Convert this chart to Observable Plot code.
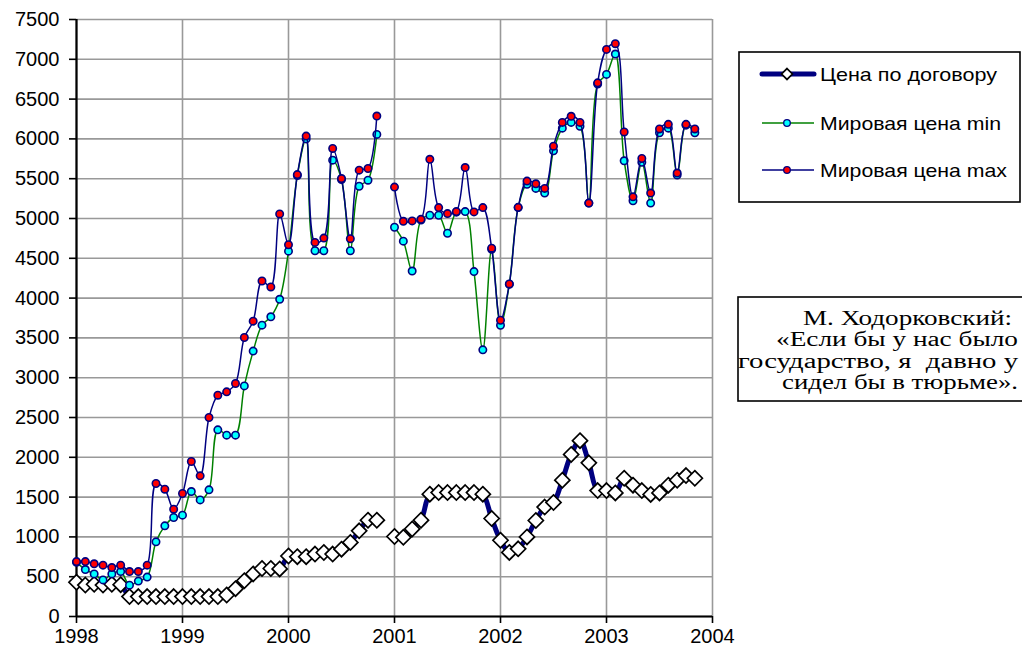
<!DOCTYPE html>
<html>
<head>
<meta charset="utf-8">
<script src="https://cdn.jsdelivr.net/npm/d3@7"></script>
<script src="https://cdn.jsdelivr.net/npm/@observablehq/plot@0.6"></script>
<style>
  html, body { margin: 0; padding: 0; background: #fff; overflow: hidden; }
  #wrap { position: relative; width: 1022px; height: 653px; overflow: hidden; }
  #overlay { position: absolute; left: 0; top: 0; pointer-events: none; }
</style>
</head>
<body>
<div id="wrap"><div id="chart"></div><svg id="overlay" width="1022" height="653"></svg></div>
<script>
// Monthly values, Jan 1998 .. Nov 2003 (Dec 2000 missing)
const contractPrice = [
  430, 395, 405, 395, 405, 400, 250, 250, 250, 250, 250, 250,
  250, 250, 250, 250, 250, 270, 350, 450, 535, 603, 603, 598,
  760, 752, 752, 784, 804, 784, 846, 930, 1076, 1210, 1210, null,
  1005, 995, 1100, 1210, 1537, 1557, 1557, 1557, 1557, 1557, 1537, 1231,
  958, 805, 850, 1000, 1206, 1375, 1433, 1712, 2036, 2209, 1930, 1582,
  1582, 1553, 1737, 1650, 1582, 1534, 1553, 1650, 1712, 1770, 1737
];
const worldMin = [
  680, 590, 535, 460, 535, 565, 394, 445, 495, 938, 1139, 1244,
  1273, 1570, 1465, 1591, 2345, 2278, 2278, 2897, 3334, 3660, 3765, 3985,
  4590, 5540, 6000, 4595, 4595, 5733, 5490, 4595, 5405, 5481, 6056, null,
  4890, 4715, 4340, 4980, 5041, 5041, 4815, 5080, 5087, 4333, 3350, 4614,
  3659, 4174, 5137, 5430, 5378, 5320, 5850, 6135, 6207, 6159, 5194, 6690,
  6810, 7066, 5725, 5223, 5706, 5194, 6077, 6135, 5546, 6173, 6077
];
const worldMax = [
  690, 690, 662, 645, 615, 645, 565, 565, 645, 1671, 1599, 1348,
  1545, 1947, 1767, 2500, 2780, 2822, 2927, 3505, 3710, 4215, 4140, 5057,
  4670, 5552, 6035, 4700, 4754, 5880, 5502, 4746, 5607, 5628, 6287, null,
  5395, 4965, 4970, 4990, 5744, 5137, 5062, 5087, 5640, 5083, 5137, 4627,
  3722, 4178, 5140, 5470, 5436, 5378, 5908, 6207, 6284, 6207, 5194, 6704,
  7124, 7196, 6087, 5272, 5754, 5320, 6125, 6183, 5571, 6183, 6125
];
const seriesNames = ["Цена по договору", "Мировая цена min", "Мировая цена max"];
const yTicks = [0, 500, 1000, 1500, 2000, 2500, 3000, 3500, 4000, 4500, 5000, 5500, 6000, 6500, 7000, 7500];
const xTicks = [1998, 1999, 2000, 2001, 2002, 2003, 2004];
const quoteLines = ["М. Ходорковский:", "«Если бы у нас было", "государство, я  давно у", "сидел бы в тюрьме»."];

const data = contractPrice.map((v, i) => ({
  t: 1998 + i / 12, dog: v, min: worldMin[i], max: worldMax[i]
}));

const navy = "#000080", green = "#008000", grid = "#999999";

const chart = Plot.plot({
  width: 1022, height: 653,
  marginLeft: 76, marginRight: 310, marginTop: 19, marginBottom: 37,
  style: { fontFamily: "'Liberation Sans', Arial, sans-serif", fontSize: "16px", background: "#fff", color: "#000" },
  x: { domain: [1998, 2004] },
  y: { domain: [0, 7500] },
  marks: [
    Plot.gridY(yTicks, { stroke: grid, strokeOpacity: 1, strokeWidth: 1.6 }),
    Plot.gridX(xTicks, { stroke: grid, strokeOpacity: 1, strokeWidth: 1.6 }),
    Plot.axisY(yTicks, { tickSize: 7, tickPadding: 10, tickFormat: "d", fontSize: 20, strokeWidth: 1.6, label: null }),
    Plot.axisX(xTicks, { tickSize: 7, tickPadding: 5, tickFormat: "d", fontSize: 20, strokeWidth: 1.6, label: null }),
    Plot.ruleX([1998], { stroke: "#000", strokeWidth: 2.2 }),
    Plot.ruleY([0], { stroke: "#000", strokeWidth: 2.2 }),
    Plot.line(data, { x: "t", y: "dog", stroke: navy, strokeWidth: 5, curve: "catmull-rom" }),
    Plot.dot(data, { x: "t", y: "dog", symbol: "diamond2", r: 6.8, fill: "#fff", stroke: "#000", strokeWidth: 1.7 }),
    Plot.line(data, { x: "t", y: "min", stroke: green, strokeWidth: 1.5, curve: "catmull-rom" }),
    Plot.dot(data, { x: "t", y: "min", r: 3.7, fill: "#00ffff", stroke: navy, strokeWidth: 1.6 }),
    Plot.line(data, { x: "t", y: "max", stroke: navy, strokeWidth: 1.5, curve: "catmull-rom" }),
    Plot.dot(data, { x: "t", y: "max", r: 3.7, fill: "#ff0000", stroke: navy, strokeWidth: 1.6 })
  ]
});
document.getElementById("chart").appendChild(chart);

// Legend and quote box
const ov = d3.select("#overlay");
const lg = ov.append("g");
lg.append("rect").attr("x", 739).attr("y", 52).attr("width", 281).attr("height", 150)
  .attr("fill", "#fff").attr("stroke", "#000").attr("stroke-width", 1.6);
const rows = [74, 123, 170];
const legendWidths = [177, 181, 187];
const styles = [
  { stroke: navy, w: 5, kind: "diamond" },
  { stroke: green, w: 1.5, kind: "circle", fill: "#00ffff" },
  { stroke: navy, w: 1.5, kind: "circle", fill: "#ff0000" }
];
rows.forEach((y, i) => {
  const s = styles[i];
  lg.append("line").attr("x1", 762).attr("x2", 814).attr("y1", y).attr("y2", y)
    .attr("stroke", s.stroke).attr("stroke-width", s.w).attr("stroke-linecap", i === 0 ? "round" : "butt");
  if (s.kind === "diamond") {
    lg.append("path").attr("d", d3.symbol(d3.symbolDiamond2, 75)()).attr("transform", `translate(787,${y})`)
      .attr("fill", "#fff").attr("stroke", "#000").attr("stroke-width", 1.7);
  } else {
    lg.append("circle").attr("cx", 787).attr("cy", y).attr("r", 3.3)
      .attr("fill", s.fill).attr("stroke", navy).attr("stroke-width", 1.3);
  }
  lg.append("text").attr("x", 820).attr("y", y + 6.5).text(seriesNames[i])
    .attr("textLength", legendWidths[i]).attr("lengthAdjust", "spacingAndGlyphs")
    .attr("font-family", "'Liberation Sans', Arial, sans-serif").attr("font-size", 18.5).attr("fill", "#000");
});

const q = ov.append("g");
q.append("rect").attr("x", 738).attr("y", 297).attr("width", 340).attr("height", 104)
  .attr("fill", "#fff").attr("stroke", "#000").attr("stroke-width", 1.6);
const quoteStarts = [803, 776, 738, 782];
const quoteWidths = [209, 242, 280, 236];
quoteLines.forEach((t, i) => {
  q.append("text").attr("x", quoteStarts[i]).attr("y", 325 + i * 21.3)
    .attr("textLength", quoteWidths[i]).attr("lengthAdjust", "spacingAndGlyphs")
    .attr("font-family", "'Liberation Serif', 'Times New Roman', serif").attr("font-size", 20)
    .style("white-space", "pre")
    .attr("fill", "#000").text(t);
});
</script>
</body>
</html>
